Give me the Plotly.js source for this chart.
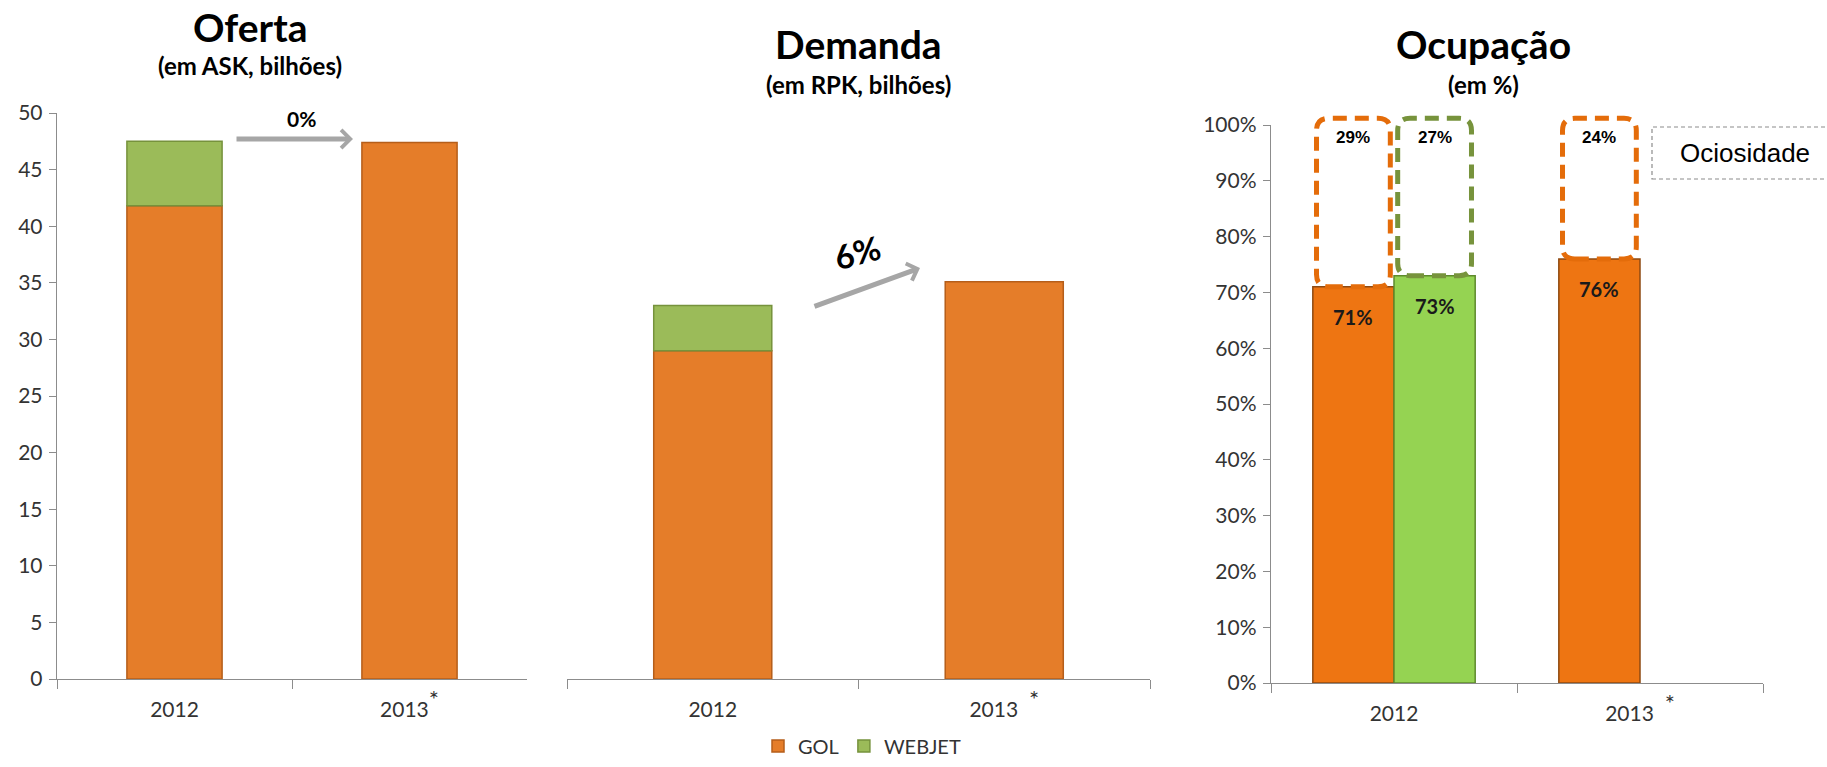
<!DOCTYPE html>
<html><head><meta charset="utf-8">
<script src="https://cdn.plot.ly/plotly-3.0.1.min.js"></script>
<style>html,body{margin:0;padding:0;background:#fff}#chart{width:1827px;height:767px}</style>
</head><body><div id="chart"></div>
<script>
// ---- data ----
const categories = ['2012', '2013'];
const ticks1 = ['2012', '2013<sup><span style="font-size:24px">*</span></sup>'];
const ticks23 = ['2012', '2013  <sup><span style="font-size:24px">*</span></sup>'];
const ofertaGol = [41.8, 47.4];
const ofertaWebjet = [5.7, null];
const demandaGol = [29.0, 35.1];
const demandaWebjet = [4.0, null];
const ocupGol = [0.71, 0.76];
const ocupWebjet = [0.73, null];
const growthOferta = '0%';
const growthDemanda = '6%';
const seriesNames = ['GOL', 'WEBJET'];
const titles = ['Oferta', 'Demanda', 'Ocupação'];
const subtitles = ['(em ASK, bilhões)', '(em RPK, bilhões)', '(em %)'];
const idleLabel = 'Ociosidade';

// ---- style ----
const W = 1827, H = 767;
const px = v => v / W, py = v => (H - v) / H;
const FONT = 'Lato, "Open Sans", sans-serif';
const ORANGE = '#E57D29', ORANGE_LINE = '#B55E1A';
const GREEN = '#9BBB59', GREEN_LINE = '#76923C';
const ORANGE3 = '#EE7512', GREEN3 = '#95D352';
const AX = '#8C8C8C';

const w1 = 0.405, w2 = 0.405, w3 = 0.33;

const traces = [
  {type: 'bar', name: seriesNames[0], x: categories, y: ofertaGol, xaxis: 'x', yaxis: 'y',
   width: w1, offset: -w1 / 2, marker: {color: ORANGE, line: {color: ORANGE_LINE, width: 1.5}}, legendgroup: 'g', hoverinfo: 'y'},
  {type: 'bar', name: seriesNames[1], x: categories, y: ofertaWebjet, base: ofertaGol, xaxis: 'x', yaxis: 'y',
   width: w1, offset: -w1 / 2, marker: {color: GREEN, line: {color: GREEN_LINE, width: 1.5}}, legendgroup: 'w', hoverinfo: 'y'},
  {type: 'bar', name: seriesNames[0], x: categories, y: demandaGol, xaxis: 'x2', yaxis: 'y2', showlegend: false,
   width: w2, offset: -w2 / 2, marker: {color: ORANGE, line: {color: ORANGE_LINE, width: 1.5}}, legendgroup: 'g', hoverinfo: 'y'},
  {type: 'bar', name: seriesNames[1], x: categories, y: demandaWebjet, base: demandaGol, xaxis: 'x2', yaxis: 'y2', showlegend: false,
   width: w2, offset: -w2 / 2, marker: {color: GREEN, line: {color: GREEN_LINE, width: 1.5}}, legendgroup: 'w', hoverinfo: 'y'},
  {type: 'bar', name: seriesNames[0], x: categories, y: ocupGol, xaxis: 'x3', yaxis: 'y3', showlegend: false,
   width: w3, offset: -w3, marker: {color: ORANGE3, line: {color: '#8E4A12', width: 1.5}}, legendgroup: 'g', hoverinfo: 'y'},
  {type: 'bar', name: seriesNames[1], x: categories, y: ocupWebjet, xaxis: 'x3', yaxis: 'y3', showlegend: false,
   width: w3, offset: 0, marker: {color: GREEN3, line: {color: '#5E8A2C', width: 1.5}}, legendgroup: 'w', hoverinfo: 'y'}
];

function xAxis(domain, anchor, ticktext) {
  return {domain: domain, anchor: anchor, type: 'category', range: [-0.5, 1.5],
    tickmode: 'array', tickvals: categories, ticktext: ticktext, tickson: 'boundaries',
    ticks: 'outside', ticklen: 9, tickcolor: AX, showline: true, linecolor: AX, linewidth: 1.3,
    showgrid: false, zeroline: false, ticklabelstandoff: 11,
    tickfont: {family: FONT, size: 21, color: '#333'}, fixedrange: true};
}
function yAxis(domain, anchor, range, dtick, fmt, visible) {
  return {domain: domain, anchor: anchor, range: range, dtick: dtick, tickformat: fmt, visible: visible,
    ticks: 'outside', ticklen: 7, tickcolor: AX, showline: true, linecolor: AX, linewidth: 1.3,
    showgrid: false, zeroline: false, ticklabelstandoff: 2,
    tickfont: {family: FONT, size: 21, color: '#333'}, fixedrange: true};
}

const dy1 = [py(679), py(113)];
const dy3 = [py(683), py(125)];

const layout = {
  width: W, height: H, margin: {l: 0, r: 0, t: 0, b: 0},
  paper_bgcolor: '#fff', plot_bgcolor: 'rgba(0,0,0,0)',
  barmode: 'overlay', showlegend: true,
  font: {family: FONT, color: '#000'},
  xaxis: xAxis([px(57), px(527)], 'y', ticks1),
  yaxis: yAxis(dy1, 'x', [0, 50], 5, '', true),
  xaxis2: xAxis([px(567), px(1150)], 'y2', ticks23),
  yaxis2: yAxis(dy1, 'x2', [0, 50], 5, '', false),
  xaxis3: xAxis([px(1271), px(1763)], 'y3', ticks23),
  yaxis3: yAxis(dy3, 'x3', [0, 1], 0.1, '.0%', true),
  legend: {orientation: 'h', x: px(862), xanchor: 'center', y: 0.002, yanchor: 'bottom', traceorder: 'normal',
    font: {family: FONT, size: 20, color: '#333'}, itemwidth: 30, tracegroupgap: 0, bgcolor: 'rgba(0,0,0,0)'},
  shapes: [],
  annotations: []
};

// titles
const titleX = [250, 858, 1483];
const titleY = [27, 44, 44];
const subY = [66, 85, 85];
titles.forEach((t, i) => {
  layout.annotations.push({xref: 'paper', yref: 'paper', x: px(titleX[i]), y: py(titleY[i]),
    text: '<b>' + t + '</b>', showarrow: false, xanchor: 'center', yanchor: 'middle',
    font: {family: FONT, size: 39, color: '#000'}});
  layout.annotations.push({xref: 'paper', yref: 'paper', x: px(titleX[i]), y: py(subY[i]),
    text: '<b>' + subtitles[i] + '</b>', showarrow: false, xanchor: 'center', yanchor: 'middle',
    font: {family: FONT, size: 24, color: '#000'}});
});

// growth arrows
layout.annotations.push({xref: 'paper', yref: 'paper', x: px(353), y: py(139), ax: -118, ay: 0,
  showarrow: true, arrowhead: 4, arrowsize: 0.7, arrowwidth: 5, arrowcolor: '#A6A6A6', text: ''});
layout.annotations.push({xref: 'paper', yref: 'paper', x: px(301), y: py(119), xanchor: 'center', yanchor: 'middle',
  text: '<b>' + growthOferta + '</b>', showarrow: false, font: {family: FONT, size: 21, color: '#000'}});
layout.annotations.push({xref: 'paper', yref: 'paper', x: px(920), y: py(268), ax: -107, ay: 39,
  showarrow: true, arrowhead: 4, arrowsize: 0.7, arrowwidth: 5, arrowcolor: '#A6A6A6', text: ''});
layout.annotations.push({xref: 'paper', yref: 'paper', x: px(857), y: py(252), xanchor: 'center', yanchor: 'middle',
  text: '<b>' + growthDemanda + '</b>', textangle: -15, showarrow: false, font: {family: FONT, size: 33, color: '#000'}});

// occupancy bars: labels + idle boxes (y3 range is [0,1], so 'y3 domain' fractions equal data values)
const occBars = [];
categories.forEach((c, i) => {
  if (ocupGol[i] != null) occBars.push({i: i, off: -w3, v: ocupGol[i], col: '#E46C0A'});
  if (ocupWebjet[i] != null) occBars.push({i: i, off: 0, v: ocupWebjet[i], col: '#77933C'});
});
const rx = 0.05, ry = 0.022, inset = 0.015, yTop = 1.012;
occBars.forEach(b => {
  const cx = b.i + b.off + w3 / 2;
  layout.annotations.push({xref: 'x3', yref: 'y3', x: cx, y: b.v, yshift: -30, xanchor: 'center', yanchor: 'middle',
    text: '<b>' + Math.round(b.v * 100) + '%</b>', showarrow: false, font: {family: FONT, size: 20, color: '#1a1a1a'}});
  layout.annotations.push({xref: 'x3', yref: 'y3', x: cx, y: 1, yshift: -12, xanchor: 'center', yanchor: 'middle',
    text: '<b>' + Math.round((1 - b.v) * 100) + '%</b>', showarrow: false, font: {family: 'Liberation Sans, Arial', size: 17, color: '#000'}});
  const x0 = b.i + b.off + inset, x1 = b.i + b.off + w3 - inset, y0 = b.v, y1 = yTop;
  const path = `M${x0 + rx},${y0} L${x1 - rx},${y0} Q${x1},${y0} ${x1},${y0 + ry} L${x1},${y1 - ry} Q${x1},${y1} ${x1 - rx},${y1} ` +
    `L${x0 + rx},${y1} Q${x0},${y1} ${x0},${y1 - ry} L${x0},${y0 + ry} Q${x0},${y0} ${x0 + rx},${y0} Z`;
  layout.shapes.push({type: 'path', xref: 'x3', yref: 'y3 domain', path: path,
    line: {color: b.col, width: 5, dash: '14px,8px'}, fillcolor: 'rgba(0,0,0,0)'});
});

// Ociosidade key box
layout.shapes.push({type: 'rect', xref: 'paper', yref: 'paper', x0: px(1652), x1: px(1835), y0: py(179), y1: py(127),
  line: {color: '#8C8C8C', width: 1.2, dash: '4px,3px'}});
layout.annotations.push({xref: 'paper', yref: 'paper', x: px(1745), y: py(153), text: idleLabel, showarrow: false,
  xanchor: 'center', yanchor: 'middle', font: {family: 'Liberation Sans, Arial', size: 26, color: '#000'}});

Plotly.newPlot('chart', traces, layout, {displayModeBar: false, staticPlot: true});
</script></body></html>
